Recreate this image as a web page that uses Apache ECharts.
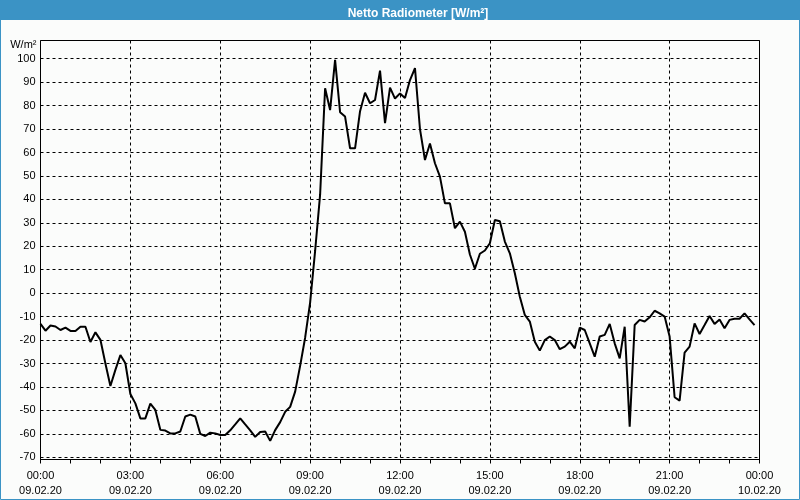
<!DOCTYPE html>
<html><head><meta charset="utf-8">
<script src="https://cdn.jsdelivr.net/npm/echarts@6/dist/echarts.min.js"></script>
<style>html,body{margin:0;padding:0;background:#fff}#c{width:800px;height:500px}</style>
</head><body><div id="c"></div>
<script>
const titleText = 'Netto Radiometer [W/m²]';
const unitLabel = 'W/m²';
const timeLabels = ['00:00','03:00','06:00','09:00','12:00','15:00','18:00','21:00','00:00'];
const dateLabels = ['09.02.20','09.02.20','09.02.20','09.02.20','09.02.20','09.02.20','09.02.20','09.02.20','10.02.20'];
const stepMinutes = 10;
const radiation = [
  -13.1,-16,-13.8,-14.2,-15.7,-14.7,-16.1,-16.1,-14.3,-14.3,
  -20.8,-16.7,-19.9,-30,-39.6,-32.7,-26.4,-29.9,-43,-47,
  -53.4,-53.4,-47.1,-49.8,-58.3,-58.6,-59.8,-59.8,-59,-52.6,
  -51.8,-52.6,-60,-60.9,-59.5,-59.8,-60.5,-60.5,-58.5,-56,
  -53.4,-56,-58.5,-61.3,-59.2,-59,-63,-58.4,-55,-50.6,
  -48.5,-42,-31,-19,-4,18,42,87.4,78.1,99.5,
  77.2,75.3,61.8,61.8,77.6,85.5,81,82.4,94.9,72.5,
  87.7,83,85.2,83.2,90.9,96,70,56.8,63.8,55.4,
  49.7,38.3,38.3,27.7,30.5,26.2,16.5,10.4,16.8,18.2,
  21.3,31.2,30.7,22,17,8.5,-1.5,-9.3,-12.1,-20.7,
  -24.5,-20,-18.5,-20,-23.9,-22.8,-20.7,-23.5,-14.7,-15.7,
  -21.4,-27.1,-18.5,-17.8,-13.1,-21.4,-27.8,-14.3,-56.9,-13.6,
  -11.4,-12.1,-10.3,-7.5,-8.6,-10,-18.5,-44.4,-45.8,-25.4,
  -22.8,-12.9,-17.4,-13.6,-9.7,-13.1,-11.2,-15,-11.4,-10.9,
  -10.9,-8.6,-11.2,-13.6
];
const seriesData = radiation.map((v, i) => [i * stepMinutes, v]);

const FONT = 'Liberation Sans';
const BLUE = '#3b93c5';
const chart = echarts.init(document.getElementById('c'), null, {renderer: 'canvas'});
chart.setOption({
  backgroundColor: '#fbfcfb',
  animation: false,
  title: {
    text: titleText, left: 413, top: 3, textAlign: 'center',
    textStyle: {color: '#fff', fontFamily: FONT, fontWeight: 'bold', fontSize: 12}
  },
  graphic: [
    {type: 'rect', z: -1, shape: {x: 0, y: 0, width: 800, height: 20}, style: {fill: BLUE}},
    {type: 'rect', z: 100, shape: {x: 0.5, y: 0.5, width: 799, height: 499}, style: {fill: null, stroke: BLUE, lineWidth: 1}}
  ],
  grid: [
    {left: 40.5, right: 40.5, top: 58.7, bottom: 42.7, show: false},
    {left: 40.5, right: 40.5, top: 40.5, bottom: 40.5, show: true, borderColor: '#000', borderWidth: 1, backgroundColor: 'transparent'}
  ],
  xAxis: [
    {gridIndex: 0, type: 'value', min: 0, max: 1440, show: false},
    {gridIndex: 1, type: 'value', min: 0, max: 1440, interval: 180,
      axisLine: {show: true, lineStyle: {color: '#000', width: 1}},
      axisTick: {show: true, length: 4, lineStyle: {color: '#000'}},
      minorTick: {show: true, splitNumber: 3, length: 4, lineStyle: {color: '#000'}},
      splitLine: {show: true, lineStyle: {color: '#000', type: [3, 3], width: 1}},
      axisLabel: {
        show: true, margin: 9, showMinLabel: true, showMaxLabel: true, hideOverlap: false,
        color: '#000', fontFamily: FONT, fontSize: 11, lineHeight: 15,
        formatter: (v) => { const k = Math.round(v / 180); return timeLabels[k] + '\n' + dateLabels[k]; }
      }
    }
  ],
  yAxis: [
    {gridIndex: 0, type: 'value', min: -70, max: 100, interval: 10,
      name: unitLabel, nameLocation: 'end', nameGap: 8,
      nameTextStyle: {color: '#000', fontFamily: FONT, fontSize: 11, align: 'right', padding: [0, 4, 0, 0]},
      axisLine: {show: false}, axisTick: {show: false},
      splitLine: {show: true, lineStyle: {color: '#000', type: [3, 3], width: 1}},
      axisLabel: {color: '#000', fontFamily: FONT, fontSize: 11, margin: 5}
    },
    {gridIndex: 1, type: 'value', min: 0, max: 1, show: false}
  ],
  series: [{
    type: 'line', xAxisIndex: 0, yAxisIndex: 0, data: seriesData,
    symbol: 'none', lineStyle: {color: '#000', width: 2}, z: 5
  }]
});
</script></body></html>
